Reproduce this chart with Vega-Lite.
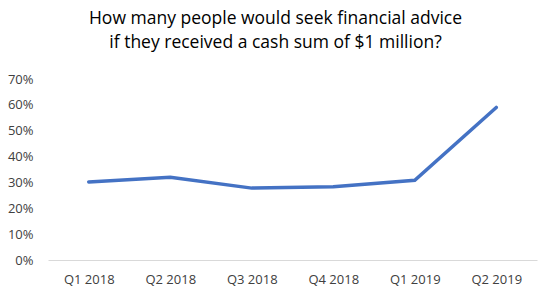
{
  "$schema": "https://vega.github.io/schema/vega-lite/v6.json",
  "width": 489,
  "height": 181,
  "autosize": {"type": "none"},
  "padding": {"left": 48, "top": 79, "right": 18, "bottom": 47},
  "background": "white",
  "title": {
    "text": ["How many people would seek financial advice", "if they received a cash sum of $1 million?"],
    "font": "Open Sans",
    "fontSize": 17.5,
    "fontWeight": "normal",
    "color": "#000000",
    "anchor": "middle",
    "lineHeight": 24,
    "offset": 22,
    "dx": -17
  },
  "config": {"view": {"stroke": null}},
  "data": {
    "values": [
      {"quarter": "Q1 2018", "value": 0.302},
      {"quarter": "Q2 2018", "value": 0.32},
      {"quarter": "Q3 2018", "value": 0.278},
      {"quarter": "Q4 2018", "value": 0.283},
      {"quarter": "Q1 2019", "value": 0.308},
      {"quarter": "Q2 2019", "value": 0.59}
    ]
  },
  "mark": {"type": "line", "color": "#4472C4", "strokeWidth": 3.5, "strokeCap": "round"},
  "encoding": {
    "x": {
      "field": "quarter",
      "type": "ordinal",
      "sort": null,
      "scale": {"type": "point", "padding": 0.5},
      "axis": {
        "title": null,
        "labelAngle": 0,
        "ticks": false,
        "domainColor": "#D9D9D9",
        "domainWidth": 1,
        "labelFont": "Open Sans",
        "labelFontSize": 13,
        "labelColor": "#404040",
        "labelPadding": 13
      }
    },
    "y": {
      "field": "value",
      "type": "quantitative",
      "scale": {"domain": [0, 0.7]},
      "axis": {
        "title": null,
        "format": ".0%",
        "values": [0, 0.1, 0.2, 0.3, 0.4, 0.5, 0.6, 0.7],
        "grid": false,
        "domain": false,
        "ticks": false,
        "labelFont": "Open Sans",
        "labelFontSize": 13,
        "labelColor": "#404040",
        "labelPadding": 15
      }
    }
  }
}
